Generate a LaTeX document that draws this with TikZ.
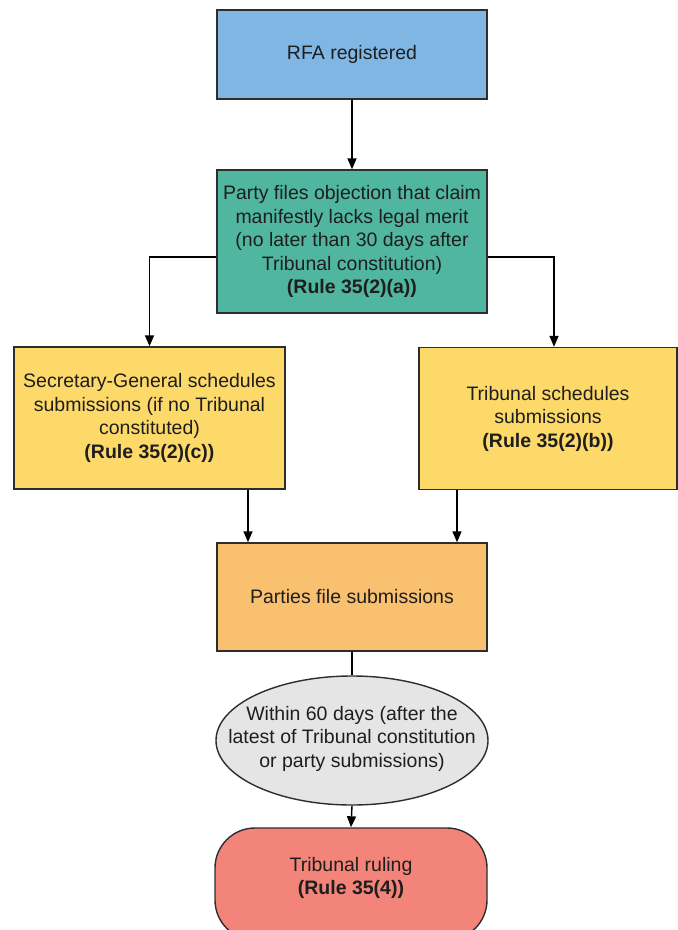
\documentclass[tikz,border=0pt]{standalone}
\usepackage{fontspec}
\setmainfont{Liberation Sans}
\usetikzlibrary{shapes.geometric,arrows.meta}

\definecolor{rfablue}{RGB}{128,182,228}
\definecolor{objgreen}{RGB}{80,182,160}
\definecolor{schedyellow}{RGB}{253,217,106}
\definecolor{subsorange}{RGB}{249,192,112}
\definecolor{waitgray}{RGB}{229,229,229}
\definecolor{rulered}{RGB}{243,132,122}
\definecolor{edgegray}{RGB}{45,45,45}
\definecolor{inktext}{RGB}{30,30,30}

\newcommand{\flowfont}{\fontsize{19.5}{23.5}\selectfont}

\tikzset{
  flowbox/.style={draw=edgegray, line width=1.4pt, inner sep=0pt,
    align=center, font=\flowfont, text=inktext},
  conn/.style={line width=1.4pt, draw=black},
  arr/.style={conn, -{Triangle[length=11pt,width=9pt]}}
}

\begin{document}
\begin{tikzpicture}[x=1pt,y=-1pt]
  \useasboundingbox (0,0) rectangle (678,930);
  \fill[white] (0,0) rectangle (678,930);

  % process boxes
  \node[flowbox, fill=rfablue, minimum width=270pt, minimum height=89pt]
    (rfa) at (352,54.5) {RFA registered};
  \node[flowbox, fill=objgreen, minimum width=270pt, minimum height=143pt]
    (obj) at (352,241.5) {Party files objection that claim\\manifestly lacks legal merit\\(no later than 30 days after\\Tribunal constitution)\\\textbf{(Rule 35(2)(a))}};
  \node[flowbox, fill=schedyellow, minimum width=271pt, minimum height=142pt]
    (sg) at (149.5,418) {Secretary-General schedules\\submissions (if no Tribunal\\constituted)\\\textbf{(Rule 35(2)(c))}};
  \node[flowbox, fill=schedyellow, minimum width=258pt, minimum height=142pt]
    (ts) at (548,418.5) {Tribunal schedules\\submissions\\\textbf{(Rule 35(2)(b))}};
  \node[flowbox, fill=subsorange, minimum width=270pt, minimum height=108pt]
    (subs) at (352,597) {Parties file submissions};
  % waiting period: fixed-size ellipse, its text set as a centred label
  \node[flowbox, ellipse, fill=waitgray, minimum width=272pt, minimum height=129pt,
    label={[flowbox, draw=none, yshift=2pt]center:Within 60 days (after the\\latest of Tribunal constitution\\or party submissions)}]
    (wait) at (352,740.5) {};
  \node[flowbox, fill=rulered, rounded corners=40pt, minimum width=272pt,
    minimum height=112pt, text depth=16pt]
    (ruling) at (351,884) {Tribunal ruling\\\textbf{(Rule 35(4))}};

  % connector end points
  \coordinate (objL) at ([yshift=-15.5pt]obj.west);
  \coordinate (objR) at ([yshift=-15.5pt]obj.east);
  \coordinate (tsTop) at ([xshift=6pt]ts.north);
  \coordinate (subsL) at ([xshift=-104pt]subs.north);
  \coordinate (subsR) at ([xshift=105pt]subs.north);

  % connectors
  \draw[arr] (rfa.south) -- (obj.north);
  \draw[arr] (objL) -| (sg.north);
  \draw[arr] (objR) -| (tsTop);
  \draw[arr] (sg.south -| subsL) -- (subsL);
  \draw[arr] (ts.south -| subsR) -- (subsR);
  \draw[conn] (subs.south) -- (wait.north);
  \draw[arr] (wait.south) -- (ruling.north);
\end{tikzpicture}
\end{document}
